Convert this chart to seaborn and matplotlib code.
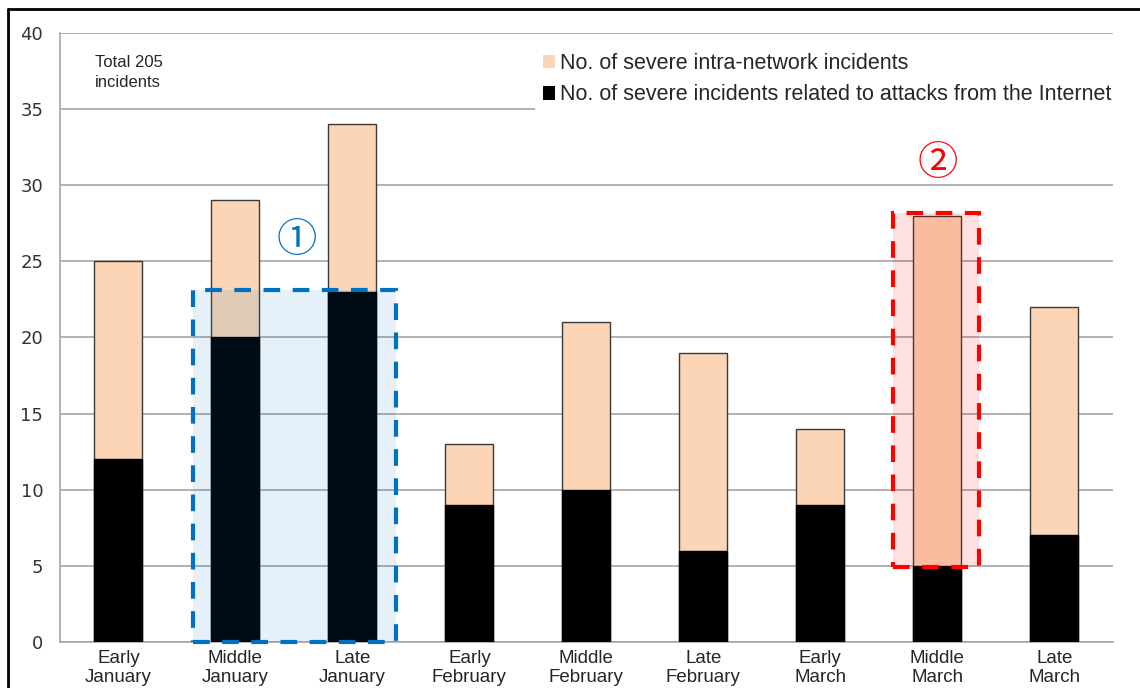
import pandas as pd
import matplotlib.pyplot as plt
import seaborn as sns
from matplotlib.patches import Patch, Rectangle
from matplotlib.lines import Line2D

# data
periods = ["Early\nJanuary", "Middle\nJanuary", "Late\nJanuary",
           "Early\nFebruary", "Middle\nFebruary", "Late\nFebruary",
           "Early\nMarch", "Middle\nMarch", "Late\nMarch"]
internet = [12, 20, 23, 9, 10, 6, 9, 5, 7]
intra = [13, 9, 11, 4, 11, 13, 5, 23, 15]
totals = [a + b for a, b in zip(internet, intra)]

df = pd.DataFrame({"period": periods, "internet": internet, "total": totals})

sns.set_style("white")
plt.rcParams['font.family'] = ['Liberation Sans', 'DejaVu Sans', 'Noto Sans CJK JP']

fig = plt.figure(figsize=(11.4, 6.88), dpi=100)
ax = fig.add_axes([0.0526, 0.0669, 0.9235, 0.8851])

peach = "#FBD5B5"
sns.barplot(data=df, x="period", y="total", color=peach, edgecolor="#3a3a3a",
            linewidth=1.0, width=0.41, saturation=1, ax=ax, zorder=2)
sns.barplot(data=df, x="period", y="internet", color="black", edgecolor="black",
            linewidth=1.0, width=0.41, saturation=1, ax=ax, zorder=3)

ax.set_ylim(0, 40)
ax.set_xlim(-0.5, len(periods) - 0.5)
ax.set_yticks(range(0, 41, 5))
ax.yaxis.grid(True, color="#A6A6A6", linewidth=1.2, zorder=0)
ax.set_axisbelow(True)
ax.set_xlabel("")
ax.set_ylabel("")

for s in ["top", "right"]:
    ax.spines[s].set_visible(False)
for s in ["left", "bottom"]:
    ax.spines[s].set_color("#A6A6A6")
    ax.spines[s].set_linewidth(1.2)

# ticks at category boundaries
ax.set_xticks([i - 0.5 for i in range(len(periods) + 1)], minor=True)
ax.tick_params(axis="x", which="minor", length=6, color="#A6A6A6", width=1.2, direction="out")
ax.tick_params(axis="x", which="major", length=0, labelsize=13.5, pad=6)
ax.tick_params(axis="y", length=6, color="#A6A6A6", width=1.2, labelsize=13,
               labelcolor="#333333", pad=6)
for lab in ax.get_yticklabels():
    lab.set_family("DejaVu Sans")
for lab in ax.get_xticklabels():
    lab.set_linespacing(1.15)

# highlight boxes
ax.add_patch(Rectangle((0.64, 0), 1.73, 23.1, facecolor="#0070C0", alpha=0.1,
                       edgecolor="none", zorder=4))
ax.add_patch(Rectangle((0.64, 0), 1.73, 23.1, facecolor="none", edgecolor="#0070C0",
                       linestyle=(0, (4, 3)), linewidth=3, zorder=5, clip_on=False))
ax.add_patch(Rectangle((6.62, 4.9), 0.735, 23.3, facecolor="#FF0000", alpha=0.12,
                       edgecolor="none", zorder=4))
ax.add_patch(Rectangle((6.62, 4.9), 0.735, 23.3, facecolor="none", edgecolor="#FF0000",
                       linestyle=(0, (4, 3)), linewidth=3, zorder=5, clip_on=False))

ax.text(1.52, 26.4, "①", color="#0070C0", fontsize=29, ha="center", va="center",
        family=["Noto Sans CJK JP", "DejaVu Sans"])
ax.text(7.0, 31.4, "②", color="#FF0000", fontsize=29, ha="center", va="center",
        family=["Noto Sans CJK JP", "DejaVu Sans"])

ax.text(-0.2, 37.4, "Total 205\nincidents", fontsize=12, ha="left", va="center",
        linespacing=1.4)

handles = [Patch(facecolor=peach, edgecolor="none"),
           Patch(facecolor="black", edgecolor="none")]
leg = ax.legend(handles, ["No. of severe intra-network incidents",
                          "No. of severe incidents related to attacks from the Internet"],
                loc="upper right", bbox_to_anchor=(1.016, 0.997), frameon=True,
                fontsize=15.5, handlelength=0.55, handleheight=0.6, handletextpad=0.25,
                labelspacing=0.48, borderpad=0.35, fancybox=False)
leg.get_frame().set_facecolor("white")
leg.get_frame().set_edgecolor("none")
leg.get_frame().set_alpha(1)
leg.set_zorder(6)

# outer frame (top and left edges)
fig.add_artist(Line2D([8 / 1140, 1], [1 - 9 / 688, 1 - 9 / 688], color="black", lw=2,
                      transform=fig.transFigure))
fig.add_artist(Line2D([8 / 1140, 8 / 1140], [0, 1 - 9 / 688], color="black", lw=2,
                      transform=fig.transFigure))

plt.savefig("out.png", dpi=100)
